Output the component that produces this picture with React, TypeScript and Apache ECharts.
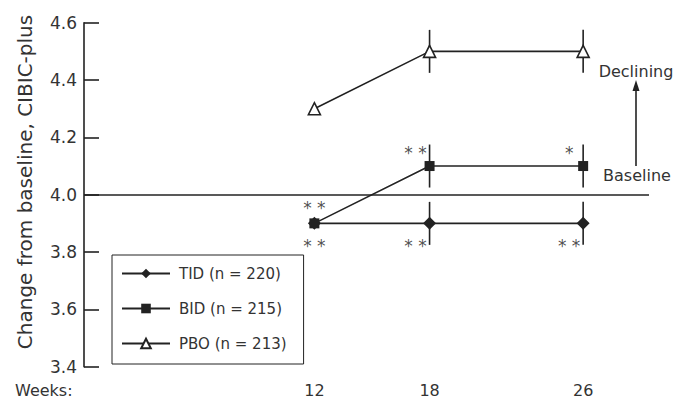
import React, { useEffect, useRef } from "react";
import * as echarts from "echarts";

const weeks = [12, 18, 26];
const tidValues = [3.9, 3.9, 3.9];
const bidValues = [3.9, 4.1, 4.1];
const pboValues = [4.3, 4.5, 4.5];
const tidErr = [0, 0.075, 0.075];
const bidErr = [0, 0.075, 0.075];
const pboErr = [0, 0.075, 0.075];
const seriesNames = ["TID (n = 220)", "BID (n = 215)", "PBO (n = 213)"];
const xTickLabels = [12, 18, 26];
const baselineValue = 4.0;
// significance markers: [week, value, text]
const starsCentered: [number, number, string][] = [
  [12, 3.971, "* *"],
  [12, 3.84, "* *"],
];
const starsLeft: [number, number, string][] = [
  [18, 4.163, "* *"],
  [26, 4.163, "*"],
  [18, 3.84, "* *"],
  [26, 3.84, "* *"],
];

const FONT = "DejaVu Sans";
const INK = "#222";
const TEXT = "#333";

function errSeries(name: string, vals: number[], errs: number[]) {
  return {
    type: "custom",
    name: name + "-err",
    z: 1,
    data: weeks.map((w, i) => [w, vals[i], errs[i]]),
    encode: { x: 0, y: 1 },
    renderItem: (params: any, api: any) => {
      const x = api.value(0);
      const y = api.value(1);
      const e = api.value(2);
      if (!e) return null;
      const top = api.coord([x, y + e]);
      const bot = api.coord([x, y - e]);
      return {
        type: "line",
        shape: { x1: top[0], y1: top[1], x2: bot[0], y2: bot[1] },
        style: { stroke: INK, lineWidth: 1.6 },
      };
    },
  };
}

function lineSeries(name: string, vals: number[], symbol: string, size: number, fill: string) {
  return {
    type: "line",
    name,
    z: 3,
    data: weeks.map((w, i) => [w, vals[i]]),
    symbol,
    symbolSize: size,
    showAllSymbol: true,
    lineStyle: { color: INK, width: 1.6 },
    itemStyle: { color: fill, borderColor: INK, borderWidth: fill === "#fff" ? 1.6 : 0 },
  };
}

export default function App() {
  const ref = useRef<HTMLDivElement>(null);
  useEffect(() => {
    if (!ref.current) return;
    const chart = echarts.init(ref.current, null, { renderer: "svg" });
    const starLabel = (offsetX: number) => ({
      show: true,
      position: "inside",
      offset: [offsetX, 5],
      formatter: (p: any) => p.data[2],
      color: INK,
      fontSize: 17,
      fontFamily: FONT,
    });
    chart.setOption({
      animation: false,
      backgroundColor: "#fff",
      textStyle: { fontFamily: FONT },
      grid: { left: 84, right: 38, top: 22.7, bottom: 401 - 366.7 },
      legend: {
        orient: "vertical",
        left: 112,
        top: 255,
        data: seriesNames,
        borderColor: INK,
        borderWidth: 1,
        padding: [11, 17, 13, 9],
        itemGap: 20,
        itemWidth: 48,
        itemHeight: 12,
        textStyle: { fontSize: 15, color: TEXT, fontFamily: FONT, padding: [0, 0, 0, 4] },
      },
      xAxis: {
        type: "value",
        min: 0,
        max: 29.43,
        interval: 2,
        axisLine: { show: false },
        axisTick: { show: false },
        splitLine: { show: false },
        axisLabel: {
          margin: 16,
          fontSize: 16,
          color: TEXT,
          fontFamily: FONT,
          formatter: (v: number) => (xTickLabels.indexOf(v) >= 0 ? String(v) : ""),
        },
      },
      yAxis: {
        type: "value",
        min: 3.4,
        max: 4.6,
        interval: 0.2,
        axisLine: { show: true, lineStyle: { color: INK, width: 1.6 } },
        axisTick: { show: true, inside: true, length: 15, lineStyle: { color: INK, width: 1.6 } },
        splitLine: { show: false },
        axisLabel: {
          margin: 7,
          fontSize: 17,
          color: TEXT,
          fontFamily: FONT,
          formatter: (v: number) => v.toFixed(1),
        },
      },
      series: [
        errSeries("TID", tidValues, tidErr),
        errSeries("BID", bidValues, bidErr),
        errSeries("PBO", pboValues, pboErr),
        {
          ...lineSeries(seriesNames[0], tidValues, "diamond", 13, INK),
          markLine: {
            silent: true,
            symbol: "none",
            label: { show: false },
            lineStyle: { color: INK, width: 1.6, type: "solid" },
            data: [{ yAxis: baselineValue }],
          },
        },
        lineSeries(seriesNames[1], bidValues, "rect", 10, INK),
        lineSeries(seriesNames[2], pboValues, "triangle", 12, "#fff"),
        {
          type: "scatter",
          name: "starsC",
          symbolSize: 0,
          data: starsCentered,
          label: starLabel(0),
        },
        {
          type: "scatter",
          name: "starsL",
          symbolSize: 0,
          data: starsLeft,
          label: starLabel(-14),
        },
      ],
      graphic: [
        {
          type: "text",
          x: 25,
          y: 182,
          rotation: Math.PI / 2,
          style: {
            text: "Change from baseline, CIBIC-plus",
            fontSize: 20,
            fontFamily: FONT,
            fill: TEXT,
            textAlign: "center",
            textVerticalAlign: "middle",
          },
        },
        {
          type: "text",
          x: 15,
          y: 390,
          style: {
            text: "Weeks:",
            fontSize: 16,
            fontFamily: FONT,
            fill: TEXT,
            textAlign: "left",
            textVerticalAlign: "middle",
          },
        },
        {
          type: "text",
          x: 636,
          y: 71,
          style: {
            text: "Declining",
            fontSize: 16,
            fontFamily: FONT,
            fill: TEXT,
            textAlign: "center",
            textVerticalAlign: "middle",
          },
        },
        {
          type: "text",
          x: 637,
          y: 175,
          style: {
            text: "Baseline",
            fontSize: 16,
            fontFamily: FONT,
            fill: TEXT,
            textAlign: "center",
            textVerticalAlign: "middle",
          },
        },
        {
          type: "line",
          shape: { x1: 636, y1: 166, x2: 636, y2: 89 },
          style: { stroke: INK, lineWidth: 1.6 },
        },
        {
          type: "polygon",
          shape: { points: [[636, 80], [632.5, 91], [639.5, 91]] },
          style: { fill: INK },
        },
      ],
    });
    return () => chart.dispose();
  }, []);
  return (
    <div
      ref={ref}
      style={{ position: "absolute", left: 0, top: 0, width: 687, height: 401 }}
    />
  );
}
